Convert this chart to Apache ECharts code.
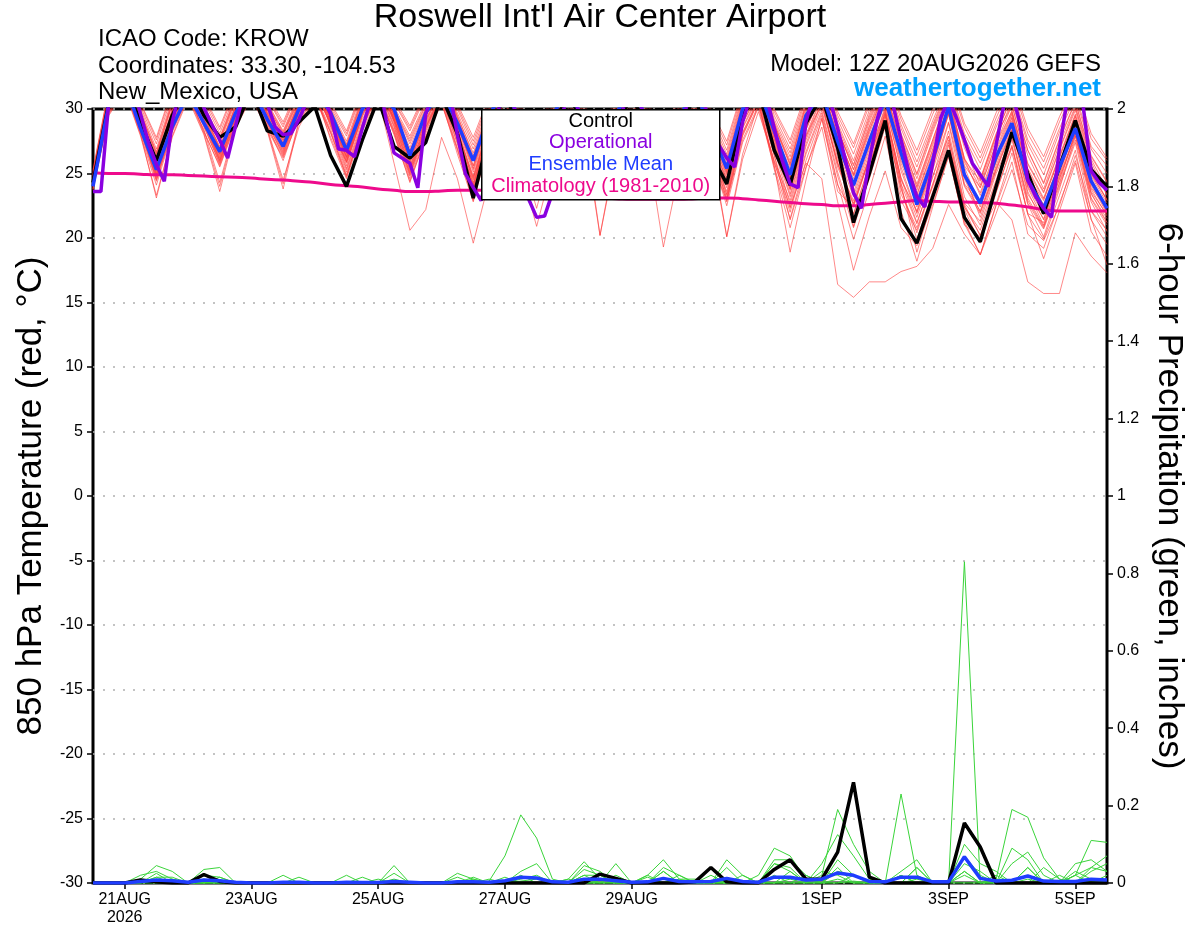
<!DOCTYPE html>
<html lang="en">
<head>
<meta charset="UTF-8">
<title>Roswell GEFS</title>
<script src="https://cdn.jsdelivr.net/npm/echarts@6/dist/echarts.min.js"></script>
<style>
    html, body { margin: 0; padding: 0; background: #fff; overflow: hidden; }
    #container { width: 1200px; height: 927px; }
</style>
</head>
<body>
<div id="container"></div>
<script>
// forecast hours from 12Z 20AUG2026, 6-hourly (ensemble) and 3-hourly (operational)
const tickHours = [12, 60, 108, 156, 204, 276, 324, 372];
const tickLabels = ['21AUG\n2026', '23AUG', '25AUG', '27AUG', '29AUG', '1SEP', '3SEP', '5SEP'];

// 850 hPa temperature (C)
const climo = [25.05,25.0,25.0,24.95,24.9,24.9,24.85,24.8,24.75,24.7,24.65,24.55,24.5,24.4,24.3,24.15,24.05,23.95,23.8,23.7,23.6,23.6,23.65,23.7,23.7,23.7,23.6,23.5,23.4,23.3,23.2,23.15,23.1,23.05,23.0,23.0,23.0,23.0,23.05,23.1,23.1,23.05,22.95,22.85,22.75,22.65,22.6,22.5,22.5,22.6,22.7,22.8,22.9,22.85,22.8,22.8,22.75,22.7,22.55,22.4,22.2,22.1,22.1,22.1,22.1];
const control = [24.3,30.5,32.0,29.0, 26.0,29.5,32.0,29.5, 27.8,28.6,31.5,28.3, 27.9,29.0,30.2,26.4, 24.0,27.6,30.8,27.1, 26.2,27.4,31.0,28.1, 23.1,28.0,31.2,28.2, 25.3,28.4,31.3,28.5, 25.6,28.6,31.0,28.4, 25.2,28.3,31.1,26.5, 24.2,29.6,31.5,26.8, 24.1,28.9,31.0,27.0, 21.2,25.0,29.1,21.5, 19.6,23.2,26.8,21.6, 19.7,24.0,28.2,25.0, 21.9,25.5,29.1,25.3, 24.0];
const ensMean = [24.0,30.4,32.0,28.5, 25.3,28.6,31.2,28.9, 26.7,29.7,31.6,29.2, 27.1,30.0,31.6,29.7, 26.8,30.0,31.6,30.0, 26.4,29.7,31.5,28.9, 26.0,29.5,31.6,29.0, 26.2,29.5,31.6,29.0, 25.9,29.6,31.7,29.1, 26.0,29.4,31.4,28.4, 25.4,30.0,31.6,28.3, 24.9,29.5,31.3,27.5, 24.1,27.5,30.8,26.6, 22.6,26.1,30.2,24.9, 22.7,26.3,28.9,24.5, 22.3,25.5,28.5,24.4, 22.3];
const operational = [
    23.6,23.6,30.6,32.2,33.0,32.0,29.6,27.4, 25.7,24.4,29.0,31.5,32.8,31.8,30.1,28.8,
    27.6,26.2,28.7,31.2,32.6,31.5,30.4,28.6, 28.0,28.1,29.2,30.6,32.0,31.2,29.6,26.9,
    26.8,26.3,28.5,30.6,32.4,29.2,26.6,26.2, 25.8,23.9,29.6,31.6,32.8,31.4,28.0,25.0,
    23.9,22.9,25.5,29.5,31.8,30.6,27.9,23.0, 21.6,21.7,23.5,28.8,31.6,30.4,28.5,27.0,
    25.8,25.4,27.6,30.2,32.0,30.6,28.6,26.8, 25.6,25.2,27.8,30.4,32.1,30.7,28.8,27.2,
    26.2,25.5,29.0,31.0,32.2,31.0,28.5,26.0, 24.2,23.9,29.0,31.2,32.4,30.8,28.5,26.0,
    23.5,22.3,26.0,29.2,31.4,30.3,27.6,25.1, 23.2,22.4,25.8,29.3,30.8,29.3,27.6,25.8,
    24.9,24.0,27.2,30.4,31.3,28.9,24.5,23.2, 22.3,21.6,27.0,30.8,31.6,30.2,25.2,24.3,
    23.7];
const members = [
    [24.6,30.8,32.9,29.4, 25.8,29.9,32.4,29.8, 26.9,30.2,32.6,29.9, 27.4,30.4,32.1,28.6, 25.9,29.8,32.3,29.1, 26.8,29.5,31.9,28.7, 25.6,29.3,32.0,29.0, 26.3,29.8,32.2,28.9, 25.9,30.1,32.5,29.4, 26.2,29.7,31.8,28.4, 25.6,30.2,32.1,28.2, 25.4,29.6,31.7,28.0, 24.8,28.3,31.5,27.2, 23.4,26.9,30.8,25.6, 23.9,27.3,29.8,25.4, 23.1,26.4,29.6,25.3, 22.9],
    [24.2,30.2,32.1,28.6, 24.9,28.8,31.6,29.1, 26.2,29.6,31.9,29.4, 27.0,30.1,31.8,29.3, 26.5,30.3,32.0,29.6, 25.8,29.1,31.4,28.5, 24.3,28.9,31.6,28.6, 25.7,29.2,31.7,28.8, 25.1,29.4,31.9,28.9, 24.6,29.0,31.2,27.9, 24.9,29.8,32.3,28.9, 25.7,30.4,32.2,28.5, 25.3,28.7,31.9,27.8, 24.0,27.6,31.2,26.1, 24.4,27.9,30.3,25.8, 23.6,26.9,30.1,25.9, 23.3],
    [25.1,31.4,33.6,30.2, 27.3,31.1,33.4,30.6, 28.1,31.2,33.5,30.8, 28.6,31.5,33.2,30.1, 27.9,31.3,33.6,30.5, 28.3,31.0,33.1,30.0, 27.2,30.6,33.0,29.9, 27.6,30.9,33.2,30.1, 27.1,30.7,33.4,30.3, 27.5,30.8,32.9,29.6, 26.8,31.1,33.2,29.5, 26.9,30.8,32.9,29.2, 26.5,29.9,32.6,28.8, 25.9,29.1,32.0,28.1, 25.8,28.9,31.6,27.6, 25.4,28.5,31.2,27.1, 25.6],
    [24.0,30.0,32.2,28.9, 25.0,28.4,31.3,28.2, 25.6,28.9,31.4,28.5, 24.5,28.6,31.0,27.8, 24.8,28.6,31.2,28.0, 24.4,27.8,30.6,26.5, 22.8,27.4,30.7,27.1, 24.0,27.9,30.5,26.8, 23.6,28.1,30.9,27.2, 23.9,27.7,30.2,26.0, 22.9,27.9,30.6,25.8, 22.4,25.8,24.6,16.4, 15.4,16.6,16.6,17.4, 17.8,19.2,22.6,20.3, 18.7,21.9,25.3,21.0, 19.8,22.5,26.4,22.1, 20.6],
    [24.4,30.5,32.6,29.1, 25.5,29.4,32.0,29.5, 26.5,29.9,32.2,29.6, 27.3,30.3,32.4,29.5, 26.2,29.7,32.1,29.0, 25.2,28.6,31.0,27.6, 23.9,28.5,31.3,28.1, 25.2,28.6,31.4,28.3, 24.8,29.0,31.6,28.2, 24.5,28.6,31.0,27.5, 24.1,28.9,31.2,27.4, 23.8,27.9,30.4,25.5, 22.6,26.2,29.7,24.2, 21.1,24.8,27.9,22.6, 20.2,22.8,21.4,16.6, 15.7,15.7,20.4,18.6, 17.3],
    [23.8,29.6,31.5,28.0, 24.1,28.2,31.0,28.4, 24.3,28.8,31.2,28.7, 26.0,29.5,31.3,28.9, 25.6,29.6,31.5,28.6, 24.9,28.3,30.8,27.3, 23.5,28.0,30.9,27.6, 24.8,28.4,31.0,27.7, 24.2,28.7,31.3,27.9, 23.9,28.2,30.6,27.0, 23.6,28.5,30.9,26.9, 22.6,27.1,30.2,25.9, 21.8,25.6,29.4,23.8, 20.4,24.1,28.3,22.7, 21.3,25.0,27.8,23.1, 20.9,24.2,27.6,22.8, 20.5],
    [24.9,31.0,33.2,29.8, 26.6,30.5,33.0,30.1, 27.6,30.8,33.0,30.4, 28.2,31.0,32.8,29.8, 27.3,30.9,33.1,30.0, 27.7,30.4,32.6,29.4, 26.6,30.1,32.5,29.6, 27.1,30.3,32.7,29.7, 26.7,30.4,33.0,29.8, 26.9,30.2,32.4,29.1, 26.2,30.7,32.8,29.0, 26.3,30.3,32.5,28.7, 25.7,29.2,32.1,28.0, 24.9,28.4,31.5,27.3, 24.6,28.1,30.9,26.8, 24.2,27.6,30.5,26.3, 24.3],
    [24.3,30.3,32.4,28.8, 25.2,29.0,31.8,29.0, 26.0,29.3,31.7,28.9, 26.4,29.6,31.4,27.6, 24.6,28.3,30.9,25.8, 20.6,22.2,27.8,24.6, 19.6,24.4,29.2,26.5, 22.3,26.9,30.1,27.0, 23.4,27.8,30.8,27.5, 23.8,27.9,30.4,26.7, 23.1,28.2,30.7,26.4, 22.3,26.7,29.9,25.1, 21.2,25.0,29.0,23.9, 19.9,23.6,27.4,22.4, 20.6,24.3,27.1,22.6, 20.1,23.8,27.9,23.4, 21.5],
    [24.7,30.7,32.8,29.3, 26.2,30.0,32.6,29.7, 27.1,30.3,32.4,29.8, 27.6,30.5,32.3,29.2, 26.6,30.1,32.6,29.4, 26.5,29.6,32.0,28.8, 25.4,29.4,32.1,29.0, 26.2,29.6,32.2,29.1, 25.7,29.8,32.4,29.2, 25.9,29.5,31.7,28.3, 25.1,29.9,32.2,28.2, 24.7,29.0,31.6,27.1, 24.2,27.8,31.0,26.3, 23.0,26.6,30.2,25.0, 22.8,26.2,29.4,24.6, 22.6,25.9,29.2,24.8, 22.7],
    [24.1,29.8,31.8,28.3, 24.6,28.5,31.2,28.8, 25.9,29.2,31.5,29.0, 26.6,29.8,31.6,29.1, 26.1,29.9,31.8,29.3, 25.5,28.9,31.2,28.1, 24.0,28.6,31.4,28.3, 25.3,28.9,31.5,28.5, 24.7,29.2,31.7,28.6, 24.4,28.7,31.0,27.4, 20.1,26.5,30.4,25.6, 18.9,24.5,29.3,23.6, 22.4,26.1,29.6,24.7, 21.6,25.3,29.0,24.0, 21.9,25.4,28.6,23.9, 21.4,24.9,28.7,24.1, 21.9],
    [24.5,30.6,32.7,29.0, 25.7,29.6,32.2,29.3, 26.6,29.8,32.0,29.4, 27.2,30.2,32.0,29.0, 26.3,29.9,32.2,29.2, 26.0,29.2,31.6,28.3, 24.8,29.0,31.8,28.7, 25.9,29.4,32.0,28.9, 20.2,26.8,30.6,27.9, 24.9,28.9,31.3,27.7, 24.3,29.3,31.6,27.6, 23.7,28.0,31.0,26.5, 23.2,26.9,30.5,25.2, 21.9,25.5,29.6,24.1, 22.1,25.6,28.9,24.0, 21.8,25.1,28.5,23.8, 21.7],
    [24.8,30.9,33.0,29.6, 26.4,30.3,32.8,29.9, 27.4,30.5,32.8,30.0, 27.9,30.7,32.6,29.6, 27.0,30.6,32.9,29.8, 27.0,30.0,32.3,29.2, 26.1,29.8,32.3,29.3, 26.6,30.0,32.4,29.4, 26.2,30.1,32.0,27.1, 19.3,25.2,30.1,27.5, 25.5,30.3,32.4,28.7, 25.6,29.7,32.0,27.9, 24.9,28.6,31.6,27.4, 24.2,27.6,31.0,26.2, 23.9,27.3,30.3,25.7, 23.5,26.8,29.9,25.6, 23.4],
    [24.0,29.9,31.9,28.4, 24.7,28.6,31.4,28.6, 25.8,29.0,31.3,28.6, 26.3,29.4,31.2,28.4, 25.3,28.9,31.3,28.4, 25.1,28.4,30.9,27.4, 23.7,27.7,30.8,25.4, 20.9,25.6,29.7,27.2, 24.5,28.5,31.1,27.8, 24.2,28.1,30.5,26.9, 20.1,26.1,29.8,26.0, 22.9,27.3,30.5,25.8, 22.7,26.3,30.2,25.5, 22.0,25.8,29.7,24.9, 21.6,25.2,28.4,23.6, 21.0,24.6,28.1,23.5, 21.2],
    [25.0,31.2,33.3,30.0, 26.9,30.8,33.2,30.3, 27.8,31.0,33.2,30.5, 28.3,31.2,33.0,30.0, 27.5,31.1,33.3,30.2, 27.9,30.6,32.8,29.7, 26.9,30.3,32.7,29.7, 27.3,30.5,33.0,29.9, 26.9,30.5,33.1,30.0, 27.1,30.4,32.6,29.3, 26.5,30.9,33.0,29.2, 26.6,30.5,32.7,28.9, 26.0,29.6,32.4,28.5, 25.5,28.8,31.8,27.8, 25.3,28.6,31.3,27.3, 24.9,28.2,30.9,26.9, 25.0],
    [24.2,30.1,32.0,28.6, 24.8,28.7,31.5,28.9, 26.3,29.5,31.8,29.2, 26.8,29.9,31.7,29.0, 26.0,29.6,31.9,29.1, 25.6,28.8,31.1,28.0, 24.5,28.7,31.3,28.2, 25.4,29.0,31.5,28.1, 20.2,26.4,30.2,27.6, 24.8,28.8,31.1,27.5, 24.6,29.2,31.5,27.7, 24.0,28.4,31.2,26.7, 20.9,25.3,29.8,24.2, 18.9,23.0,27.2,22.4, 20.2,23.9,27.6,22.9, 20.8,24.3,28.2,23.6, 21.8],
    [24.6,30.6,32.5,29.1, 25.6,29.5,32.1,29.4, 26.8,29.9,32.1,29.6, 27.5,30.4,32.2,29.4, 26.6,30.2,32.4,29.5, 26.3,29.4,31.8,28.6, 25.1,29.1,31.9,28.8, 26.0,29.5,32.0,28.7, 25.6,29.7,32.3,29.0, 25.4,29.4,31.6,28.3, 25.0,29.9,32.0,28.3, 24.5,28.9,31.6,27.6, 24.6,28.1,31.3,26.8, 23.7,27.2,30.6,25.9, 23.5,26.9,29.9,25.2, 23.0,26.2,29.5,25.0, 22.9],
    [23.9,29.7,31.7,28.2, 24.4,28.3,31.1,28.3, 25.5,28.8,31.0,28.4, 26.2,29.3,31.1,28.2, 25.1,28.8,31.2,28.3, 24.8,28.1,30.7,27.0, 23.3,27.8,30.8,27.4, 24.6,28.3,30.9,27.6, 24.0,28.4,31.0,27.6, 23.7,28.0,30.7,27.2, 23.3,28.1,30.8,26.4, 21.4,25.5,28.6,22.8, 17.5,21.7,25.2,20.8, 19.4,22.6,26.3,21.1, 18.7,22.5,25.9,20.3, 19.2,22.7,26.0,21.5, 17.9],
    [24.4,30.4,32.3,28.9, 25.3,29.2,31.9,29.2, 26.4,29.7,32.0,29.5, 27.1,30.1,32.0,29.2, 26.4,30.0,32.2,29.3, 26.1,29.2,31.5,28.4, 24.7,28.8,31.6,28.5, 25.6,29.2,31.7,28.6, 25.3,29.4,32.0,28.7, 25.2,29.1,31.4,28.0, 24.7,29.6,31.8,27.9, 24.2,28.6,31.3,27.1, 23.9,27.4,30.8,26.0, 23.3,26.8,30.3,25.5, 22.4,25.9,29.1,24.4, 22.2,25.6,28.8,24.3, 22.0],
    [25.2,31.5,33.8,30.4, 27.6,31.4,33.7,30.8, 28.4,31.5,33.7,30.9, 28.8,31.6,33.4,30.3, 28.1,31.5,33.8,30.6, 28.5,31.2,33.3,30.2, 27.5,30.8,33.2,30.1, 27.9,31.1,33.4,30.3, 27.4,30.9,33.6,30.4, 27.8,31.0,33.1,29.8, 27.2,31.3,33.4,29.8, 27.3,31.0,33.1,29.5, 27.0,30.3,32.9,29.2, 26.4,29.6,32.4,28.6, 26.2,29.3,32.0,28.1, 25.9,29.0,31.7,27.7, 26.0],
    [24.3,30.2,32.2,28.7, 25.1,28.9,31.7,29.0, 26.1,29.4,31.6,29.1, 26.9,29.7,31.5,28.7, 25.8,29.4,31.7,28.8, 25.3,28.6,31.0,27.8, 24.1,28.4,31.1,27.9, 25.0,28.7,31.2,28.0, 24.5,28.9,31.4,28.2, 24.1,28.4,30.9,27.3, 23.4,28.6,31.1,27.0, 23.2,27.6,30.6,25.7, 22.9,26.6,30.0,24.6, 21.2,24.7,28.9,23.2, 21.0,24.5,28.0,22.7, 20.7,24.0,27.4,22.1, 20.1],
    [24.8,31.1,33.1,29.7, 26.7,30.6,33.0,30.0, 27.7,30.9,33.1,30.3, 28.0,30.8,32.9,29.9, 27.2,30.8,33.0,30.0, 27.5,30.3,32.5,29.5, 26.4,30.0,32.4,29.5, 26.9,30.2,32.6,29.6, 26.5,30.3,32.8,29.7, 26.6,30.1,32.3,29.0, 26.0,30.5,32.7,28.8, 26.0,30.1,32.4,28.4, 25.3,29.0,32.0,27.8, 24.6,28.2,31.3,27.0, 24.1,27.7,30.6,26.4, 23.8,27.3,30.2,26.1, 23.8],
    [23.7,29.5,31.4,27.9, 23.3,27.8,30.8,28.0, 23.6,28.5,30.9,28.3, 23.8,29.0,30.9,28.1, 24.9,28.6,31.0,28.2, 24.6,27.9,30.4,26.8, 23.0,27.5,30.5,27.2, 24.3,28.0,30.6,27.3, 23.8,28.1,30.7,27.4, 23.5,27.8,30.4,26.8, 22.8,27.6,30.3,25.9, 22.0,26.5,29.7,24.8, 20.8,24.6,28.6,22.9, 20.6,24.2,27.9,22.2, 19.6,23.5,27.2,21.8, 19.9,23.3,26.8,21.4, 19.5],
    [24.5,30.5,32.6,29.0, 25.9,29.8,32.3,29.5, 26.9,30.1,32.3,29.7, 27.3,30.2,32.1,29.3, 26.8,30.4,32.5,29.6, 26.6,29.8,32.2,29.0, 25.6,29.6,32.2,29.2, 26.4,29.9,32.4,29.2, 25.8,29.9,32.6,29.3, 26.0,29.7,31.9,28.6, 25.3,30.1,32.4,28.6, 24.9,29.2,31.8,27.8, 25.0,28.4,31.4,27.2, 23.9,27.4,30.8,26.1, 23.3,26.7,29.7,25.1, 22.5,25.8,29.0,24.6, 22.4],
    [24.1,30.0,31.9,28.5, 24.5,28.4,31.3,28.7, 25.7,29.1,31.4,28.8, 26.5,29.7,31.5,28.8, 25.4,29.2,31.5,28.7, 25.0,28.5,31.0,27.7, 23.8,28.2,31.0,27.8, 24.9,28.6,31.1,27.9, 24.3,28.6,31.2,27.8, 23.9,28.3,30.8,27.1, 23.0,28.0,30.6,25.3, 20.8,25.4,29.2,24.1, 21.9,25.7,29.5,23.4, 20.8,24.0,27.6,21.3, 18.7,22.6,26.6,21.9, 21.2,24.6,27.9,23.0, 21.0],
    [24.9,31.0,33.0,29.6, 26.5,30.4,32.9,29.9, 27.5,30.7,32.9,30.2, 28.1,30.9,32.9,29.9, 27.1,30.7,33.0,30.0, 27.3,30.1,32.4,29.3, 26.2,29.9,32.3,29.4, 26.8,30.1,32.5,29.5, 26.4,30.2,32.7,29.6, 26.4,29.9,32.2,28.8, 25.8,30.4,32.6,28.7, 25.8,29.9,32.2,28.3, 25.6,29.4,32.2,28.1, 25.0,28.6,31.7,27.4, 24.5,28.0,31.0,26.8, 24.3,27.7,30.6,26.4, 24.4],
    [24.2,30.1,32.0,28.7, 24.9,28.8,31.5,28.9, 26.0,29.3,31.6,29.0, 26.7,29.8,31.5,28.9, 25.9,29.5,31.8,29.0, 25.4,28.7,31.1,27.9, 24.2,28.5,31.2,28.0, 25.1,28.8,31.3,28.2, 24.6,29.0,31.5,28.3, 24.3,28.6,31.0,27.5, 23.9,28.9,31.3,27.3, 23.4,27.8,30.9,26.2, 22.5,26.2,29.9,24.5, 22.1,25.7,29.6,24.2, 22.6,25.9,29.3,24.1, 22.3,25.6,28.9,23.9, 22.3],
    [24.6,30.7,32.7,29.2, 26.0,29.9,32.4,29.6, 27.0,30.2,32.4,29.7, 27.6,30.6,32.5,29.5, 26.9,30.3,32.6,29.5, 26.7,29.7,32.0,28.8, 25.3,29.4,32.1,29.0, 26.1,29.7,32.2,29.0, 25.8,29.8,32.4,29.1, 25.7,29.6,31.9,28.5, 25.2,29.9,32.3,28.4, 24.6,28.8,31.5,27.3, 24.0,27.7,30.9,26.4, 22.4,26.1,30.0,25.1, 22.8,26.4,29.6,24.8, 22.9,26.3,29.4,24.9, 23.0],
    [23.8,29.7,31.6,28.1, 23.1,27.9,31.0,28.1, 24.0,28.6,31.1,28.4, 24.2,29.1,31.0,28.2, 24.7,28.7,31.1,28.1, 24.3,27.8,30.5,26.9, 22.9,27.6,30.6,27.3, 24.1,27.9,30.7,27.4, 23.6,28.0,30.8,27.3, 23.2,27.7,30.3,26.5, 22.5,27.4,30.1,25.5, 21.5,26.0,29.5,24.2, 19.9,23.7,27.9,22.1, 18.2,22.4,26.4,21.0, 20.1,23.6,27.0,21.9, 18.4,22.1,25.8,20.5, 18.6],
    [25.3,31.6,33.9,30.5, 27.8,31.6,33.9,31.0, 28.6,31.7,33.9,31.1, 29.0,31.8,33.6,30.5, 28.3,31.7,34.0,30.8, 28.7,31.4,33.5,30.4, 27.8,31.0,33.4,30.3, 28.1,31.3,33.6,30.5, 27.6,31.1,33.8,30.6, 28.0,31.2,33.3,30.0, 27.5,31.5,33.6,30.0, 27.6,31.3,33.4,29.8, 27.3,30.6,33.2,29.5, 26.8,30.0,32.8,28.9, 26.6,29.7,32.3,28.5, 26.3,29.4,32.0,28.1, 26.2],
    [24.4,30.4,32.4,28.9, 25.4,29.3,31.9,29.2, 26.5,29.8,32.0,29.4, 27.2,30.2,32.1,29.2, 26.3,29.9,32.1,29.2, 25.9,29.0,31.4,28.2, 24.6,28.8,31.5,28.4, 25.5,29.1,31.6,28.5, 25.1,29.3,31.8,28.6, 24.8,28.9,31.3,27.8, 24.4,29.4,31.7,27.8, 23.9,28.4,31.2,26.9, 23.5,27.1,30.6,25.8, 22.7,26.1,29.9,24.6, 22.0,25.3,28.4,23.4, 21.5,24.8,28.1,23.1, 21.2]
];

// 6-hour precipitation (inches)
const precipControl = [0,0,0,0.008,0.003,0,0,0.022, 0.004,0,0,0,0,0,0,0, 0,0,0,0,0,0,0,0, 0,0,0,0,0,0,0,0, 0.023,0.012,0,0,0,0,0.003,0.04, 0.003,0,0,0.035,0.06,0.01,0.01,0.08, 0.26,0.015,0,0,0,0,0,0.155, 0.093,0,0,0,0,0,0,0, 0];
const precipMean = [0,0,0,0.004,0.008,0.006,0.002,0.008, 0.006,0.002,0,0,0.002,0.002,0,0, 0.002,0.001,0.001,0.004,0.002,0,0,0.003, 0.003,0.002,0.006,0.015,0.013,0.003,0.002,0.01, 0.01,0.006,0.002,0.003,0.012,0.004,0.003,0.004, 0.012,0.004,0.002,0.015,0.015,0.008,0.01,0.026, 0.02,0.004,0.003,0.015,0.015,0.003,0.003,0.068, 0.012,0.005,0.007,0.018,0.005,0.004,0.004,0.01, 0.008];
const precipMembers = [
    [0,0,0,0.01,0.045,0.03,0,0, 0,0,0,0,0,0,0,0, 0,0,0,0,0,0,0,0, 0,0.005,0.07,0.176,0.116,0.01,0,0, 0,0,0,0,0,0,0,0, 0,0,0,0,0,0,0.02,0.19, 0.1,0.03,0,0,0,0,0,0.15, 0.09,0.01,0,0,0,0,0.02,0.11, 0.105],
    [0,0,0,0.02,0.03,0.01,0,0.035, 0.04,0,0,0,0,0,0,0, 0,0,0,0,0,0,0,0, 0,0,0,0.01,0.02,0,0.01,0.055, 0.01,0,0,0.02,0.06,0.01,0,0, 0.01,0,0.02,0.09,0.07,0.01,0,0.03, 0.02,0,0,0.23,0.02,0,0,0.03, 0,0.01,0.19,0.17,0.065,0.01,0,0.03, 0.05],
    [0,0,0,0,0.025,0,0,0.02, 0.015,0,0,0,0,0,0,0, 0,0,0,0.045,0,0,0,0, 0.015,0,0,0.03,0.05,0,0,0.02, 0,0.05,0,0,0.03,0,0,0, 0.06,0.02,0,0.05,0.03,0,0.05,0.125, 0.07,0.01,0,0,0.04,0,0,0.83, 0,0,0.05,0.08,0.02,0,0.03,0.01, 0],
    [0,0,0,0,0.015,0.015,0,0, 0.015,0,0,0,0.02,0,0,0, 0.02,0,0,0.025,0,0,0,0.025, 0.01,0,0,0,0,0,0,0.045, 0.03,0,0,0,0.04,0.02,0,0, 0.04,0,0,0.06,0.06,0.02,0,0.06, 0.02,0,0,0.03,0.06,0,0,0.1, 0.05,0.03,0,0.04,0,0,0.05,0.06, 0.03],
    [0,0,0,0,0,0,0,0, 0,0,0,0,0,0.015,0,0, 0,0.015,0,0,0,0,0,0.015, 0,0,0,0.02,0,0,0,0.035, 0.02,0,0,0.02,0,0.02,0,0, 0,0,0,0.05,0.04,0,0.03,0.02, 0,0,0,0.02,0,0,0,0.07, 0.02,0,0.09,0.06,0,0,0.02,0.04, 0.07],
    [0,0,0,0,0.01,0,0,0, 0,0,0,0,0,0,0,0, 0,0,0.01,0,0,0,0,0, 0,0.01,0,0,0,0,0,0.02, 0.02,0,0,0,0.03,0,0,0.02, 0,0.02,0,0,0,0.02,0,0, 0.02,0,0,0,0.04,0,0,0.05, 0.03,0,0,0,0.04,0.01,0,0.04, 0.03],
    [0,0,0,0.01,0,0,0,0, 0,0,0,0,0,0,0,0, 0,0,0,0,0,0,0,0, 0.01,0,0,0,0,0,0.01,0, 0,0,0,0.015,0,0.01,0.01,0, 0,0,0,0,0.03,0,0,0, 0,0,0,0.02,0,0,0,0, 0,0.02,0,0.04,0,0.02,0,0, 0.02],
    [0,0,0,0,0.015,0,0,0, 0,0,0,0,0,0,0,0, 0,0,0,0,0,0,0,0, 0,0,0.015,0,0,0,0,0, 0,0.02,0,0,0,0,0,0, 0,0,0.005,0,0,0,0,0.04, 0,0,0,0,0,0,0,0.03, 0,0,0,0,0,0,0.02,0, 0],
    [0,0,0,0,0.005,0,0,0.01, 0,0,0,0,0,0,0,0, 0,0,0,0.01,0,0,0,0, 0,0,0,0,0,0,0,0.01, 0,0,0,0,0.01,0,0,0, 0,0,0,0.02,0,0,0,0.01, 0,0,0,0,0.01,0,0,0.02, 0,0,0,0.01,0,0,0,0.01, 0],
    [0,0,0,0,0,0.01,0,0, 0.005,0,0,0,0,0,0,0, 0,0,0,0,0,0,0,0, 0,0,0,0.005,0.01,0,0,0, 0,0,0,0,0,0,0,0, 0.005,0,0,0,0.01,0,0,0, 0.005,0,0,0,0,0,0,0, 0,0,0,0,0,0,0,0.005, 0.01]
];

const FONT = 'Liberation Sans, Arial, Helvetica, sans-serif';
const PURPLE = '#8a00e0';
const BLUE = '#1f3dff';
const PINK = '#ee0a8c';

function byHour(arr, step) {
    return arr.map(function (v, i) { return [i * step, v]; });
}

var dom = document.getElementById('container');
var myChart = echarts.init(dom);

var series = [];
members.forEach(function (m, k) {
    series.push({
        name: 'member' + k, type: 'line', data: byHour(m, 6), symbol: 'none',
        silent: true, lineStyle: { color: '#ff3b3b', width: 1, opacity: 0.6 }
    });
});
precipMembers.forEach(function (m, k) {
    series.push({
        name: 'pmember' + k, type: 'line', yAxisIndex: 1, data: byHour(m, 6), symbol: 'none',
        silent: true, lineStyle: { color: '#3ad43a', width: 1 }
    });
});
series.push(
    { name: 'Climatology', type: 'line', data: byHour(climo, 6), symbol: 'none', smooth: true,
      lineStyle: { color: PINK, width: 3 } },
    { name: 'Control precip', type: 'line', yAxisIndex: 1, data: byHour(precipControl, 6), symbol: 'none',
      lineStyle: { color: '#000', width: 3.5 } },
    { name: 'Mean precip', type: 'line', yAxisIndex: 1, data: byHour(precipMean, 6), symbol: 'none',
      lineStyle: { color: BLUE, width: 3.5 } },
    { name: 'Control', type: 'line', data: byHour(control, 6), symbol: 'none',
      lineStyle: { color: '#000', width: 3.5 } },
    { name: 'Ensemble Mean', type: 'line', data: byHour(ensMean, 6), symbol: 'none',
      lineStyle: { color: BLUE, width: 3.5 } },
    { name: 'Operational', type: 'line', data: byHour(operational, 3), symbol: 'none',
      lineStyle: { color: PURPLE, width: 3.5 } }
);

var labelByHour = {};
tickHours.forEach(function (h, i) { labelByHour[h] = tickLabels[i]; });

var option = {
    animation: false,
    backgroundColor: '#fff',
    textStyle: { fontFamily: FONT },
    title: [
        { text: "Roswell Int'l Air Center Airport", left: 'center', top: 1, padding: 0,
          textStyle: { fontSize: 34, fontWeight: 'normal', color: '#000', fontFamily: FONT } },
        { text: 'ICAO Code: KROW', left: 98, top: 27, padding: 0,
          textStyle: { fontSize: 24, fontWeight: 'normal', color: '#000', fontFamily: FONT } },
        { text: 'Coordinates: 33.30, -104.53', left: 98, top: 54, padding: 0,
          textStyle: { fontSize: 24, fontWeight: 'normal', color: '#000', fontFamily: FONT } },
        { text: 'New_Mexico, USA', left: 98, top: 80, padding: 0,
          textStyle: { fontSize: 24, fontWeight: 'normal', color: '#000', fontFamily: FONT } },
        { text: 'Model: 12Z 20AUG2026 GEFS', right: 99, top: 52, padding: 0,
          textStyle: { fontSize: 24, fontWeight: 'normal', color: '#000', fontFamily: FONT } },
        { text: 'weathertogether.net', right: 99, top: 76, padding: 0,
          textStyle: { fontSize: 26, fontWeight: 'bold', color: '#00a0ff', fontFamily: FONT } }
    ],
    grid: {
        left: 93, right: 93, top: 109, bottom: 44,
        show: true, borderColor: '#000', borderWidth: 3, backgroundColor: 'transparent'
    },
    xAxis: {
        type: 'value', min: 0, max: 384,
        axisLine: { show: false, onZero: false },
        splitLine: { show: false },
        axisTick: { show: true, customValues: tickHours, length: 6, lineStyle: { color: '#000', width: 1.5 } },
        axisLabel: {
            customValues: tickHours, color: '#000', fontSize: 16, margin: 8, lineHeight: 18,
            formatter: function (v) { return labelByHour[v] || ''; }
        }
    },
    yAxis: [{
        type: 'value', min: -30, max: 30, interval: 5, position: 'left',
        name: '850 hPa Temperature (red, \u00B0C)', nameLocation: 'middle', nameGap: 42,
        nameTextStyle: { fontSize: 35, color: '#000' },
        axisLine: { show: false, onZero: false },
        axisTick: { show: true, length: 6, lineStyle: { color: '#000', width: 1.5 } },
        axisLabel: { color: '#000', fontSize: 16, margin: 10 },
        splitLine: { show: true, lineStyle: { color: '#b0b0b0', width: 1.5, type: [2, 8] } }
    }, {
        type: 'value', min: 0, max: 2, interval: 0.2, position: 'right',
        name: '6-hour Precipitation (green, inches)', nameLocation: 'middle', nameGap: 44, nameRotate: -90,
        nameTextStyle: { fontSize: 35, color: '#000' },
        axisLine: { show: false, onZero: false },
        axisTick: { show: true, length: 6, lineStyle: { color: '#000', width: 1.5 } },
        axisLabel: { color: '#000', fontSize: 16, margin: 10 },
        splitLine: { show: false }
    }],
    graphic: [{
        type: 'group', left: 481, top: 109, z: 100,
        children: [
            { type: 'rect', z: 100, shape: { x: 0, y: 0, width: 238, height: 90 },
              style: { fill: '#fff', stroke: '#000', lineWidth: 1.5 } },
            { type: 'text', z: 101, x: 119, y: 12,
              style: { text: 'Control', fill: '#000', font: '20px ' + FONT, textAlign: 'center', textVerticalAlign: 'middle' } },
            { type: 'text', z: 101, x: 119, y: 33,
              style: { text: 'Operational', fill: PURPLE, font: '20px ' + FONT, textAlign: 'center', textVerticalAlign: 'middle' } },
            { type: 'text', z: 101, x: 119, y: 55,
              style: { text: 'Ensemble Mean', fill: BLUE, font: '20px ' + FONT, textAlign: 'center', textVerticalAlign: 'middle' } },
            { type: 'text', z: 101, x: 119, y: 77,
              style: { text: 'Climatology (1981-2010)', fill: PINK, font: '20px ' + FONT, textAlign: 'center', textVerticalAlign: 'middle' } }
        ]
    }],
    series: series
};

if (option && typeof option === 'object') {
    myChart.setOption(option);
}
</script>
</body>
</html>
